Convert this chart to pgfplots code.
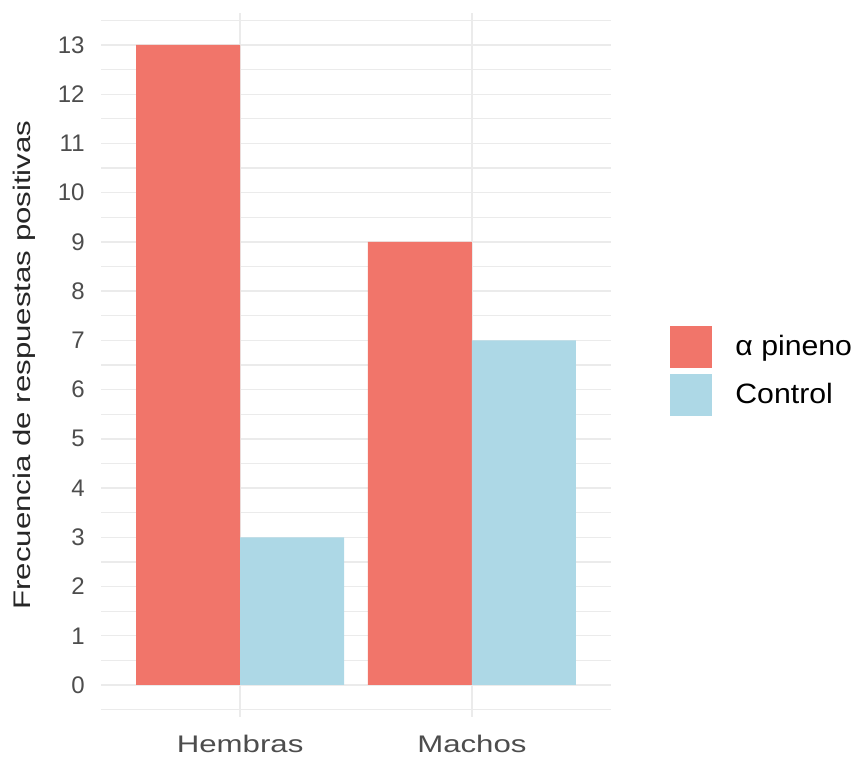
\documentclass[border=0pt]{standalone}
\usepackage{fontspec}
\setmainfont{Liberation Sans}
\newfontfamily\widefont{Liberation Sans}[FakeStretch=1.3]
\newfontfamily\legfont{Liberation Sans}[FakeStretch=1.08]
\usepackage{pgfplots}
\pgfplotsset{compat=1.18}
\definecolor{cpin}{HTML}{F1756A}
\definecolor{cctl}{HTML}{ADD8E6}
\definecolor{gridc}{HTML}{EBEBEB}
\definecolor{tickc}{HTML}{4D4D4D}
\begin{document}
\begin{tikzpicture}
\begin{axis}[
  name=main,
  scale only axis,
  width=255pt, height=352pt,
  xmin=0.4, xmax=2.6,
  ymin=-0.65, ymax=13.65,
  ybar=0pt, bar width=52pt,
  axis line style={draw=none},
  major tick length=0pt, minor tick length=0pt,
  xtick={1,2}, xticklabels={Hembras,Machos},
  ytick={0,1,...,13},
  minor ytick={-0.5,0.5,...,13.5},
  ymajorgrids, yminorgrids, xmajorgrids,
  major grid style={gridc, line width=0.7pt},
  minor grid style={gridc, line width=0.6pt},
  /pgf/number format/assume math mode=true,
  ticklabel style={font=\fontsize{12}{14}\selectfont, text=tickc},
  yticklabel style={inner sep=0pt, xshift=-8pt},
  xticklabel style={inner sep=0pt, yshift=-9pt, font=\widefont\fontsize{12}{14}\selectfont},
  every axis y label/.style={at={(axis description cs:0,0.5)}, xshift=-38.5pt, rotate=90, anchor=center},
  ylabel={Frecuencia de respuestas positivas},
  ylabel style={font=\widefont\fontsize{12}{14}\selectfont, text=black!85},
  legend style={at={(axis description cs:1,0.5)}, anchor=west, xshift=29.5pt, yshift=-3pt,
    draw=none, fill=none, inner sep=0pt, row sep=3pt, column sep=11.5pt,
    font=\legfont\fontsize{14}{16}\selectfont,
    nodes={inner sep=0pt, anchor=west}},
  legend cell align=left,
  legend image code/.code={\fill[#1,draw=none] (0pt,-10.5pt) rectangle (21pt,10.5pt);},
]
\addplot[fill=cpin, draw=none] coordinates {(1,13) (2,9)};
\addplot[fill=cctl, draw=none] coordinates {(1,3) (2,7)};
\legend{α pineno, Control}
\end{axis}
\pgfresetboundingbox
\path[use as bounding box] ([xshift=-50.5pt,yshift=-20.5pt]main.south west) rectangle ([xshift=123pt,yshift=6.5pt]main.north east);
\end{tikzpicture}
\end{document}
